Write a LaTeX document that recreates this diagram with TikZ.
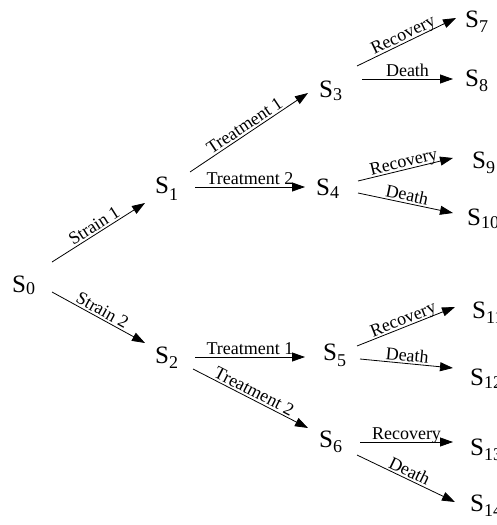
\documentclass[tikz,border=0pt]{standalone}
\usepackage{fontspec}
\setmainfont{Liberation Serif}
\usetikzlibrary{arrows.meta}
% state label: large S with a lowered index
\newcommand{\St}[2][5pt]{{\rmfamily\fontsize{25}{25}\selectfont S}\raisebox{-#1}{\rmfamily\fontsize{18}{18}\selectfont #2}}
\tikzset{
  state/.style={inner sep=0pt, anchor=base west},
  arr/.style={-{Triangle[length=13pt,width=9pt]}, line width=0.8pt},
  lbl/.style={midway, sloped, above, text depth=0pt, inner sep=2pt,
              font=\rmfamily\fontsize{18}{18}\selectfont}
}
\begin{document}
\begin{tikzpicture}[x=1pt,y=-1pt]
\useasboundingbox (0,0) rectangle (496,525);

% states
\node[state] (s0)  at (12,292)  {\St[2pt]{0}};
\node[state] (s1)  at (155,193) {\St[7pt]{1}};
\node[state] (s2)  at (155,363) {\St{2}};
\node[state] (s3)  at (319,97)  {\St[3pt]{3}};
\node[state] (s4)  at (316,195) {\St[3pt]{4}};
\node[state] (s5)  at (323,360) {\St[6pt]{5}};
\node[state] (s6)  at (319,447) {\St{6}};
\node[state] (s7)  at (465,27)  {\St{7}};
\node[state] (s8)  at (465,86)  {\St{8}};
\node[state] (s9)  at (472,168) {\St{9}};
\node[state] (s10) at (467,225) {\St[3pt]{10}};
\node[state] (s11) at (472,318) {\St{11}};
\node[state] (s12) at (470,385) {\St[3pt]{12}};
\node[state] (s13) at (470,455) {\St{13}};
\node[state] (s14) at (470,511) {\St{14}};

% strains
\draw[arr] ([shift={(40,-30)}]s0.base west) -- node[lbl]{Strain 1} ([shift={(-10,10)}]s1.base west);
\draw[arr] ([shift={(40,0)}]s0.base west)   -- node[lbl]{Strain 2} ([shift={(-10,-20)}]s2.base west);

% treatments
\draw[arr] ([shift={(35,-21)}]s1.base west) -- node[lbl]{Treatment 1} ([shift={(-11,-4)}]s3.base west);
\draw[arr] ([shift={(40,-6)}]s1.base west)  -- node[lbl]{Treatment 2} ([shift={(-11,-8)}]s4.base west);
\draw[arr] ([shift={(40,-6)}]s2.base west)  -- node[lbl]{Treatment 1} ([shift={(-18,-3)}]s5.base west);
\draw[arr] ([shift={(38,6)}]s2.base west)   -- node[lbl]{Treatment 2} ([shift={(-11,-19)}]s6.base west);

% outcomes
\draw[arr] ([shift={(38,-31)}]s3.base west) -- node[lbl]{Recovery} ([shift={(-9,-9)}]s7.base west);
\draw[arr] ([shift={(43,-18)}]s3.base west) -- node[lbl]{Death}    ([shift={(-12,-7)}]s8.base west);
\draw[arr] ([shift={(42,-14)}]s4.base west) -- node[lbl]{Recovery} ([shift={(-19,-10)}]s9.base west);
\draw[arr] ([shift={(42,-2)}]s4.base west)  -- node[lbl]{Death}    ([shift={(-14,-12)}]s10.base west);
\draw[arr] ([shift={(34,-14)}]s5.base west) -- node[lbl]{Recovery} ([shift={(-17,-11)}]s11.base west);
\draw[arr] ([shift={(37,-1)}]s5.base west)  -- node[lbl]{Death}    ([shift={(-17,-17)}]s12.base west);
\draw[arr] ([shift={(41,-5)}]s6.base west)  -- node[lbl]{Recovery} ([shift={(-17,-13)}]s13.base west);
\draw[arr] ([shift={(38,8)}]s6.base west)   -- node[lbl]{Death}    ([shift={(-15,-9)}]s14.base west);
\end{tikzpicture}
\end{document}
